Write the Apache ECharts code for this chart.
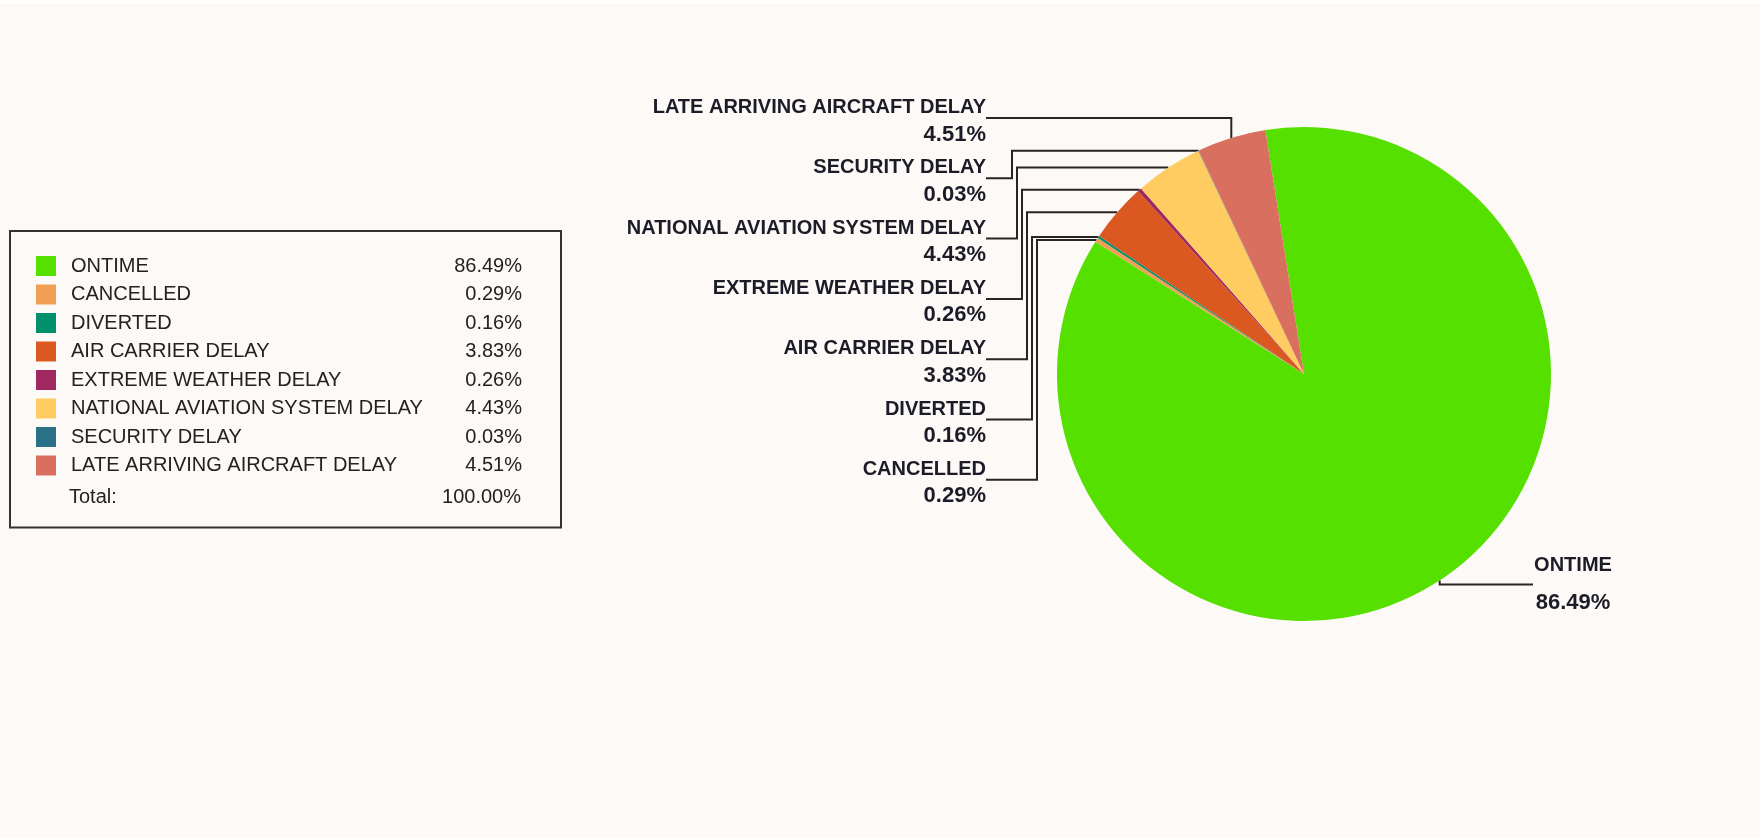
<!DOCTYPE html>
<html>
<head>
<meta charset="utf-8">
<script src="https://cdn.jsdelivr.net/npm/echarts@6/dist/echarts.min.js"></script>
<style>
  html, body { margin: 0; padding: 0; background: #fff; }
  #echart { width: 1760px; height: 838px; }
  .strip { position: absolute; left: 0; top: 0; width: 1760px; height: 4px; background: #fff; z-index: 2; }
</style>
</head>
<body>
<div class="strip"></div>
<div id="echart"></div>
<script>
const categories = ['ONTIME', 'CANCELLED', 'DIVERTED', 'AIR CARRIER DELAY', 'EXTREME WEATHER DELAY',
  'NATIONAL AVIATION SYSTEM DELAY', 'SECURITY DELAY', 'LATE ARRIVING AIRCRAFT DELAY']
const percents = [86.49, 0.29, 0.16, 3.83, 0.26, 4.43, 0.03, 4.51]
const colors = ['#55e000', '#efa055', '#00906b', '#db5820', '#a0285e', '#ffcc62', '#2a7187', '#d9705f']
const totalLabel = 'Total:'

const font = '"Liberation Sans", Arial, sans-serif'
const fmt = v => v.toFixed(2) + '%'
const total = percents.reduce((a, b) => a + b, 0)

const myChart = echarts.init(document.getElementById('echart'))

const option = {
  backgroundColor: '#fdf9f6',
  animation: false,
  color: colors,
  legend: {
    orient: 'vertical',
    left: 10,
    top: 231,
    padding: [25, 39, 52, 26],
    itemWidth: 20,
    itemHeight: 20,
    itemGap: 8.5,
    icon: 'rect',
    borderColor: '#333',
    borderWidth: 2,
    selectedMode: false,
    data: categories,
    formatter: function (name) {
      return '{n|' + name + '}{v|' + fmt(percents[categories.indexOf(name)]) + '}'
    },
    textStyle: {
      color: '#222',
      fontFamily: font,
      fontSize: 20,
      rich: {
        n: { width: 361, padding: [0, 0, 0, 10], fontSize: 20, fontFamily: font, color: '#222', lineHeight: 20 },
        v: { width: 90, align: 'right', fontSize: 20, fontFamily: font, color: '#222', lineHeight: 20 }
      }
    }
  },
  graphic: [
    {
      type: 'text', x: 69, y: 497,
      style: { text: totalLabel, fontSize: 20, fontFamily: font, fill: '#222', verticalAlign: 'middle' }
    },
    {
      type: 'text', x: 521, y: 497,
      style: { text: fmt(total), fontSize: 20, fontFamily: font, fill: '#222', align: 'right', verticalAlign: 'middle' }
    }
  ],
  series: [
    {
      type: 'pie',
      center: [1304, 374],
      radius: 247,
      startAngle: 99,
      clockwise: true,
      avoidLabelOverlap: false,
      emphasis: { disabled: true },
      data: categories.map((c, i) => ({ name: c, value: percents[i] })),
      label: {
        show: true,
        position: 'outer',
        formatter: function (p) {
          const big = p.dataIndex === 0
          return '{' + (big ? 'N' : 'n') + '|' + p.name + '}\n{' + (big ? 'P' : 'p') + '|' + fmt(percents[p.dataIndex]) + '}'
        },
        rich: {
          n: { fontSize: 20, fontWeight: 'bold', fontFamily: font, color: '#1c1c28', lineHeight: 27 },
          p: { fontSize: 22, fontWeight: 'bold', fontFamily: font, color: '#1c1c28', lineHeight: 27 },
          N: { fontSize: 20, fontWeight: 'bold', fontFamily: font, color: '#1c1c28', lineHeight: 37 },
          P: { fontSize: 22, fontWeight: 'bold', fontFamily: font, color: '#1c1c28', lineHeight: 37 }
        }
      },
      labelLine: {
        show: true,
        length: 10,
        length2: 10,
        lineStyle: { color: '#262626', width: 2 }
      },
      labelLayout: function (params) {
        const i = params.dataIndex
        const edge = params.labelLinePoints[0]
        if (i === 0) {
          const ly = edge[1] + 4
          return {
            x: 1573, y: ly, align: 'center', verticalAlign: 'middle',
            labelLinePoints: [edge, [edge[0], ly], [1533, ly]]
          }
        }
        // 标签从上到下倒序排列
        const rank = categories.length - 1 - i
        const ly = 118 + rank * 60.3
        const right = 986
        let pts
        if (rank === 0) {
          pts = [edge, [edge[0], ly], [right, ly]]
        } else {
          const ex = 1007 + rank * 5
          pts = [edge, [ex, edge[1]], [ex, ly], [right, ly]]
        }
        return { x: right, y: ly + 3, align: 'right', verticalAlign: 'middle', labelLinePoints: pts }
      }
    }
  ]
}

myChart.setOption(option)
</script>
</body>
</html>
